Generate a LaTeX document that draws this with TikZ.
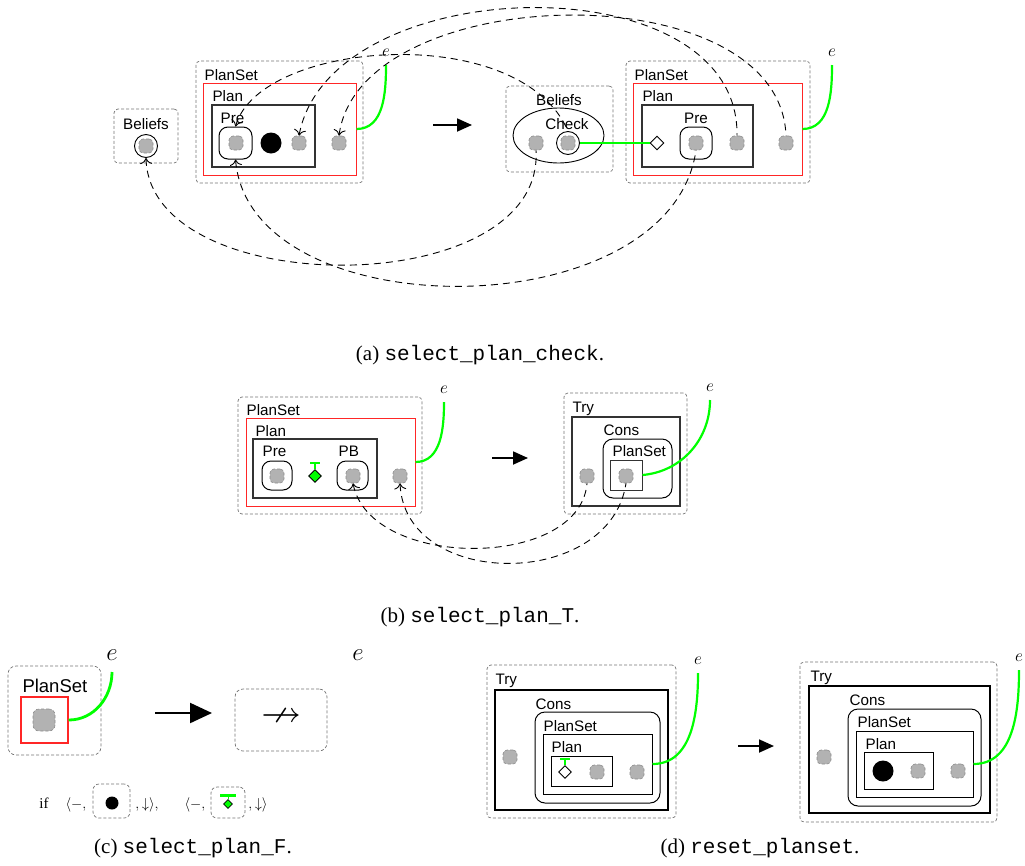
\documentclass[tikz,border=0pt]{standalone}
\usepackage{amssymb}
\usepackage{fontspec}
\setmainfont{Liberation Serif}
\setsansfont{Liberation Sans}
\setmonofont{Liberation Mono}
\usetikzlibrary{positioning,fit,shapes.geometric,arrows.meta}

\tikzstyle{shell}    = [draw=black!55, densely dashed, line width=0.7pt, rounded corners=4pt, inner sep=0pt]
\tikzstyle{planset}  = [draw=red!85, line width=1pt, inner sep=0pt]
\tikzstyle{solidbox} = [draw=black!80, line width=1.3pt, inner sep=0pt]
\tikzstyle{roundbox} = [draw, line width=1pt, rounded corners=9pt, inner sep=0pt]
\tikzstyle{hole}     = [draw=black!45, densely dashed, fill=black!30, line width=0.6pt, rounded corners=4pt, minimum size=14pt, inner sep=0pt]
\tikzstyle{ring}     = [circle, draw, line width=0.9pt, minimum size=23pt, inner sep=0pt]
\tikzstyle{fired}    = [circle, fill=black, minimum size=21pt, inner sep=0pt]
\tikzstyle{guard}    = [diamond, draw, fill=white, line width=0.9pt, minimum size=14pt, inner sep=0pt]
\tikzstyle{lbl}      = [font=\sffamily\fontsize{15.2}{17}\selectfont, anchor=base west, inner sep=0pt]
\tikzstyle{ev}       = [font=\fontsize{16}{16}\selectfont, inner sep=0pt]
\tikzstyle{evt}      = [draw=green, line width=2.2pt]
\tikzstyle{link}     = [dash pattern=on 7pt off 5pt, line width=0.9pt, <-, >={Computer Modern Rightarrow[length=6pt,width=12pt]}]
\tikzstyle{trans}    = [line width=1.8pt, -{Triangle[length=15pt,width=13pt]}]
\tikzstyle{capt}     = [font=\fontsize{21}{23}\selectfont]

\begin{document}
\begin{tikzpicture}[x=1pt, y=-1pt]
\useasboundingbox (0,0) rectangle (1025,865);

% (a) select_plan_check
\node[shell, fit={(114,109) (178,163)}] (aBelL) {};
\node[lbl, anchor=base] at (146,129) {Beliefs};
\node[hole] (aBh) at (146,146) {};
\node[ring] (aBc) at (aBh) {};

\node[shell, fit={(196,61) (363,183)}] (aShL) {};
\node[planset, fit={(203,83) (356,175)}] (aPsL) {};
\node[lbl] at ([shift={(2pt,2pt)}]aPsL.north west) {PlanSet};
\node[solidbox, fit={(212,105) (315,167)}] (aPlL) {};
\node[lbl] at ([shift={(1pt,3pt)}]aPlL.north west) {Plan};
\node[hole] (aPreHL) at (236,143) {};
\node[roundbox, fit={(219,127) (252,159)}] (aPreL) {};
\node[lbl] at ([shift={(2pt,3pt)}]aPreL.north west) {Pre};
\node[fired] (aDot) at (271,143) {};
\node[hole] (aH1L) at (299,143) {};
\node[hole] (aH2L) at (339,143) {};
\coordinate (aEvL) at (386,65);
\node[ev, above=8pt of aEvL] (aEL) {$e$};
\draw[evt] (aPsL.east) to[out=0, in=-90] (aEvL);

\coordinate (aT1) at (433,125);
\coordinate (aT2) at (472,125);
\draw[trans] (aT1) -- (aT2);

\node[shell, fit={(506,86) (613,172)}] (aBelR) {};
\node[lbl, anchor=base] at (559,105) {Beliefs};
\node[draw, ellipse, line width=0.9pt, minimum width=91pt, minimum height=55pt, inner sep=0pt] (aEll) at (558.5,135.5) {};
\node[lbl, anchor=base] at (567,129) {Check};
\node[hole] (aEh) at (536,143) {};
\node[hole] (aCh) at (568,143) {};
\node[ring] (aChc) at (aCh) {};

\node[shell, fit={(626,61) (810,183)}] (aShR) {};
\node[planset, fit={(633,83) (802,175)}] (aPsR) {};
\node[lbl] at ([shift={(2pt,2pt)}]aPsR.north west) {PlanSet};
\node[solidbox, fit={(642,105) (753,167)}] (aPlR) {};
\node[lbl] at ([shift={(1pt,3pt)}]aPlR.north west) {Plan};
\node[guard] (aDia) at (657,143) {};
\node[hole] (aPreHR) at (696,143) {};
\node[roundbox, fit={(680,127) (712,159)}] (aPreR) {};
\node[lbl, anchor=base] at ([yshift=3pt]aPreR.north) {Pre};
\node[hole] (aH1R) at (737,143) {};
\node[hole] (aH2R) at (786,143) {};
\draw[evt] (aChc.east) -- (aDia.west);
\coordinate (aEvR) at (832,65);
\node[ev, above=8pt of aEvR] (aER) {$e$};
\draw[evt] (aPsR.east) to[out=0, in=-90] (aEvR);

\draw[link] (aPreL.north) .. controls (260,40) and (520,20) .. (aChc.north);
\draw[link] (aH1L.north) .. controls (330,-30) and (740,-40) .. (aH1R.north);
\draw[link] (aH2L.north) .. controls (360,-20) and (780,-30) .. (aH2R.north);
\draw[link] (aBc.south) .. controls (150,302) and (545,302) .. (aEh.south);
\draw[link] (aPreL.south) .. controls (250,330) and (670,330) .. (aPreHR.south);

\node[capt] (capA) at (480,355) {(a) \texttt{select\_plan\_check}.};

% (b) select_plan_T
\node[shell, fit={(238,397) (422,514)}] (bSh) {};
\node[planset, fit={(246,418) (415,506)}] (bPs) {};
\node[lbl] at ([shift={(1pt,2pt)}]bPs.north west) {PlanSet};
\node[solidbox, fit={(253,439) (377,498)}] (bPl) {};
\node[lbl] at ([shift={(3pt,2pt)}]bPl.north west) {Plan};
\node[hole] (bPreH) at (277,476) {};
\node[roundbox, fit={(262,461) (292,490)}] (bPre) {};
\node[lbl] at ([shift={(1pt,4pt)}]bPre.north west) {Pre};
\node[guard, fill=green, minimum size=13pt] (bDia) at (315,476) {};
\draw[green, line width=1.2pt] (bDia.north) -- ++(0,-6) coordinate (bT);
\draw[green, line width=2pt] ([xshift=-5pt]bT) -- ([xshift=5pt]bT);
\node[hole] (bPBH) at (353,476) {};
\node[roundbox, fit={(337,461) (368,490)}] (bPB) {};
\node[lbl] at ([shift={(2pt,4pt)}]bPB.north west) {PB};
\node[hole] (bH) at (400,476) {};
\coordinate (bEvL) at (444,402);
\node[ev, above=8pt of bEvL] (bEL) {$e$};
\draw[evt] (bPs.east) to[out=0, in=-90] (bEvL);

\coordinate (bT1) at (492,458);
\coordinate (bT2) at (528,458);
\draw[trans] (bT1) -- (bT2);

\node[shell, fit={(564,393) (687,514)}] (bShR) {};
\node[solidbox, fit={(572,417) (680,506)}] (bTry) {};
\node[lbl] at ([shift={(1pt,4pt)}]bTry.north west) {Try};
\node[roundbox, rounded corners=10pt, fit={(603,439) (672,498)}] (bCons) {};
\node[lbl] at ([shift={(1pt,3pt)}]bCons.north west) {Cons};
\node[solidbox, line width=1pt, fit={(610,460) (642,490)}] (bPsI) {};
\node[lbl] at ([shift={(3pt,3pt)}]bPsI.north west) {PlanSet};
\node[hole] (bTh) at (587,476) {};
\node[hole] (bCh) at (626,476) {};
\coordinate (bEvR) at (710,400);
\node[ev, above=8pt of bEvR] (bER) {$e$};
\draw[evt] (bPsI.east) to[out=5, in=-90] (bEvR);

\draw[link] (bPBH.south) .. controls (370,570) and (580,570) .. (bTh.south);
\draw[link] (bH.south) .. controls (405,590) and (610,590) .. (bCh.south);

\node[capt] (capB) at (480,617) {(b) \texttt{select\_plan\_T}.};

% (c) select_plan_F
\node[shell, rounded corners=8pt, fit={(8,666) (101,755)}] (cSh) {};
\node[planset, line width=1.4pt, fit={(21,697) (68,743)}] (cPs) {};
\node[lbl, font=\sffamily\fontsize{18.5}{20}\selectfont] at ([shift={(2pt,4pt)}]cPs.north west) {PlanSet};
\node[hole, minimum size=22pt, rounded corners=6pt] (cH) at (44,720) {};
\coordinate (cEv) at (112,672);
\node[ev, font=\fontsize{25}{25}\selectfont, above=11pt of cEv] (cE) {$e$};
\draw[evt, line width=2.8pt] (cPs.east) to[out=0, in=-90] (cEv);

\coordinate (cT1) at (155,713);
\coordinate (cT2) at (212,713);
\draw[line width=2.2pt, -{Triangle[length=22pt,width=20pt]}] (cT1) -- (cT2);

\node[shell, rounded corners=8pt, fit={(235,689) (327,751)}] (cNo) {};
\node[font=\fontsize{40}{40}\selectfont, inner sep=0pt] at ([yshift=2pt]cNo.center) {$\nrightarrow$};
\node[ev, font=\fontsize{25}{25}\selectfont] (cE2) at (358,655) {$e$};

\node[font=\fontsize{15}{15}\selectfont, anchor=base] (cIf) at (44,808) {if};
\node[font=\fontsize{15}{15}\selectfont, anchor=base] (cL1) at (76,808) {$\langle -,$};
\node[shell, rounded corners=6pt, fit={(93,784) (130,818)}] (cB1) {};
\node[fired, minimum size=13pt] (cDot) at (112,803) {};
\node[font=\fontsize{15}{15}\selectfont, anchor=base] (cR1) at (147,808) {$,{\downarrow}\rangle,$};
\node[font=\fontsize{15}{15}\selectfont, anchor=base] (cL2) at (195,808) {$\langle -,$};
\node[shell, rounded corners=6pt, fit={(211,787) (245,818)}] (cB2) {};
\node[guard, fill=green, minimum size=9pt, line width=0.8pt] (cDia) at (228,804) {};
\draw[green, line width=1pt] (cDia.north) -- ++(0,-4) coordinate (cT);
\draw[green, line width=3pt] ([xshift=-8pt]cT) -- ([xshift=8pt]cT);
\node[font=\fontsize{15}{15}\selectfont, anchor=base] (cR2) at (258,808) {$,{\downarrow}\rangle$};

\node[capt] (capC) at (193,848) {(c) \texttt{select\_plan\_F}.};

% (d) reset_planset
\node[shell, fit={(487,665) (676,818)}] (dShL) {};
\node[solidbox, draw=black, fit={(495,690) (668,810)}] (dTryL) {};
\node[lbl] at ([shift={(1pt,5pt)}]dTryL.north west) {Try};
\node[roundbox, rounded corners=10pt, fit={(535,712) (660,803)}] (dConsL) {};
\node[lbl] at ([shift={(1pt,2pt)}]dConsL.north west) {Cons};
\node[solidbox, draw=black, line width=1pt, fit={(543,734) (652,794)}] (dPsL) {};
\node[lbl] at ([shift={(1pt,2pt)}]dPsL.north west) {PlanSet};
\node[solidbox, draw=black, line width=1pt, fit={(551,756) (612,786)}] (dPlL) {};
\node[lbl] at ([shift={(1pt,3pt)}]dPlL.north west) {Plan};
\node[guard, minimum size=13pt] (dDia) at (565,772) {};
\draw[green, line width=1.2pt] (dDia.north) -- ++(0,-6) coordinate (dT);
\draw[green, line width=2pt] ([xshift=-5pt]dT) -- ([xshift=5pt]dT);
\node[hole] (dH1L) at (597,772) {};
\node[hole] (dH2L) at (637,772) {};
\node[hole] (dH0L) at (510,757) {};
\coordinate (dEvL) at (698,673);
\node[ev, above=8pt of dEvL] (dEL) {$e$};
\draw[evt] (dPsL.east) to[out=0, in=-90] (dEvL);

\coordinate (dT1) at (738,746);
\coordinate (dT2) at (774,746);
\draw[trans] (dT1) -- (dT2);

\node[shell, fit={(800,662) (997,822)}] (dShR) {};
\node[solidbox, draw=black, fit={(809,686) (990,813)}] (dTryR) {};
\node[lbl] at ([shift={(2pt,4pt)}]dTryR.north west) {Try};
\node[roundbox, rounded corners=10pt, fit={(848,709) (981,806)}] (dConsR) {};
\node[lbl] at ([shift={(2pt,3pt)}]dConsR.north west) {Cons};
\node[solidbox, draw=black, line width=1pt, fit={(856,731) (973,797)}] (dPsR) {};
\node[lbl] at ([shift={(2pt,3pt)}]dPsR.north west) {PlanSet};
\node[solidbox, draw=black, line width=1pt, fit={(864,752) (933,789)}] (dPlR) {};
\node[lbl] at ([shift={(2pt,2pt)}]dPlR.north west) {Plan};
\node[fired] (dDot) at (883,771) {};
\node[hole] (dH1R) at (918,771) {};
\node[hole] (dH2R) at (958,771) {};
\node[hole] (dH0R) at (824,757) {};
\coordinate (dEvR) at (1019,670);
\node[ev, above=8pt of dEvR] (dER) {$e$};
\draw[evt] (dPsR.east) to[out=0, in=-90] (dEvR);

\node[capt] (capD) at (760,848) {(d) \texttt{reset\_planset}.};
\end{tikzpicture}
\end{document}
